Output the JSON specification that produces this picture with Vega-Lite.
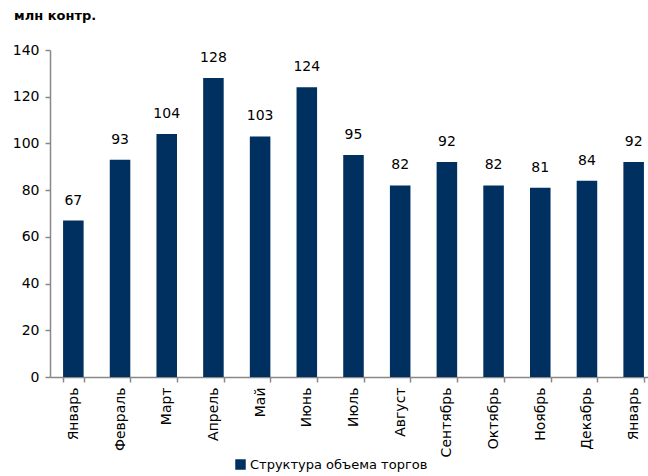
{
  "$schema": "https://vega.github.io/schema/vega-lite/v6.json",
  "autosize": {"type": "none"},
  "padding": {"left": 50, "top": 50, "right": 0, "bottom": 99},
  "width": 607,
  "height": 327,
  "background": "white",
  "config": {
    "view": {"stroke": null},
    "font": "DejaVu Sans",
    "text": {"font": "DejaVu Sans"}
  },
  "title": {
    "text": "млн контр.",
    "anchor": "start",
    "frame": "group",
    "dx": -36,
    "offset": 20,
    "fontSize": 13,
    "fontWeight": "bold",
    "font": "DejaVu Sans",
    "color": "#000000"
  },
  "data": {
    "values": [
      {"id": 1, "month": "Январь", "value": 67, "series": "Структура объема торгов"},
      {"id": 2, "month": "Февраль", "value": 93, "series": "Структура объема торгов"},
      {"id": 3, "month": "Март", "value": 104, "series": "Структура объема торгов"},
      {"id": 4, "month": "Апрель", "value": 128, "series": "Структура объема торгов"},
      {"id": 5, "month": "Май", "value": 103, "series": "Структура объема торгов"},
      {"id": 6, "month": "Июнь", "value": 124, "series": "Структура объема торгов"},
      {"id": 7, "month": "Июль", "value": 95, "series": "Структура объема торгов"},
      {"id": 8, "month": "Август", "value": 82, "series": "Структура объема торгов"},
      {"id": 9, "month": "Сентябрь", "value": 92, "series": "Структура объема торгов"},
      {"id": 10, "month": "Октябрь", "value": 82, "series": "Структура объема торгов"},
      {"id": 11, "month": "Ноябрь", "value": 81, "series": "Структура объема торгов"},
      {"id": 12, "month": "Декабрь", "value": 84, "series": "Структура объема торгов"},
      {"id": 13, "month": "Январь", "value": 92, "series": "Структура объема торгов"}
    ]
  },
  "encoding": {
    "x": {
      "field": "id",
      "type": "ordinal",
      "sort": null,
      "scale": {"paddingInner": 0.56, "paddingOuter": 0.28},
      "axis": {
        "title": null,
        "labelAngle": -90,
        "labelExpr": "['','Январь','Февраль','Март','Апрель','Май','Июнь','Июль','Август','Сентябрь','Октябрь','Ноябрь','Декабрь','Январь'][datum.value]",
        "labelFontSize": 14,
        "labelColor": "#000000",
        "labelPadding": 5,
        "domainColor": "#888888",
        "domainWidth": 1.5,
        "tickColor": "#888888",
        "tickBand": "extent",
        "tickSize": 5,
        "tickWidth": 1.5
      }
    },
    "y": {
      "field": "value",
      "type": "quantitative",
      "scale": {"domain": [0, 140]},
      "axis": {
        "title": null,
        "values": [0, 20, 40, 60, 80, 100, 120, 140],
        "grid": false,
        "labelFontSize": 14,
        "labelColor": "#000000",
        "labelPadding": 6,
        "domainColor": "#888888",
        "domainWidth": 1.5,
        "tickColor": "#888888",
        "tickSize": 5,
        "tickWidth": 1.5
      }
    }
  },
  "layer": [
    {
      "mark": {"type": "bar", "color": "#00305F"},
      "encoding": {
        "color": {
          "field": "series",
          "type": "nominal",
          "scale": {"range": ["#00305F"]},
          "legend": {
            "title": null,
            "orient": "none",
            "legendX": 184,
            "legendY": 408,
            "symbolType": "square",
            "symbolSize": 110,
            "symbolStrokeWidth": 0,
            "labelFontSize": 13,
            "labelLimit": 0,
            "labelColor": "#000000",
            "labelOffset": 3
          }
        }
      }
    },
    {
      "mark": {"type": "text", "baseline": "bottom", "dy": -13, "fontSize": 14, "color": "#000000"},
      "encoding": {"text": {"field": "value", "type": "quantitative"}}
    }
  ]
}
